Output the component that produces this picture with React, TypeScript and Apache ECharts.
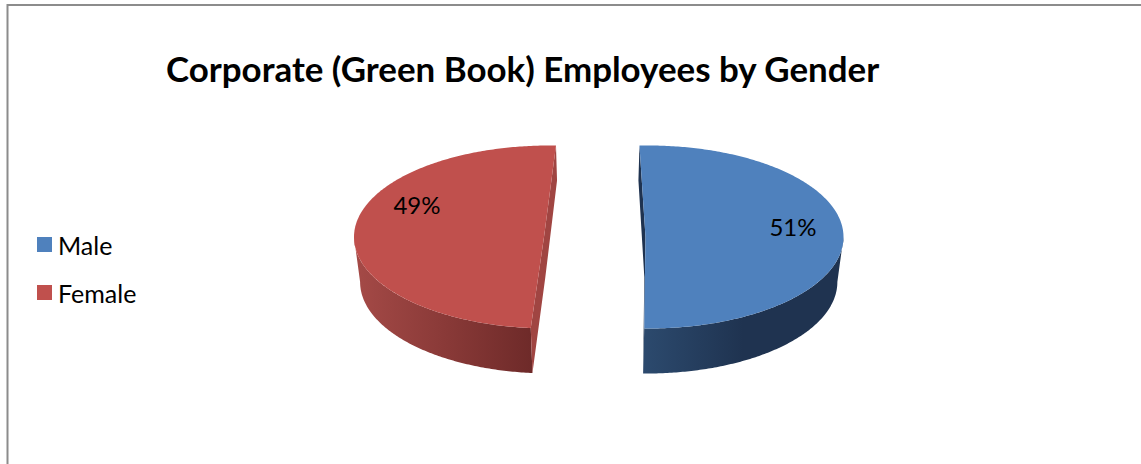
import React, { useEffect, useRef } from "react";
import * as echarts from "echarts";

const titleText = "Corporate (Green Book) Employees by Gender";
const categories = ["Male", "Female"];
const shares = [51, 49];

const sliceColors = ["#4f81bd", "#c0504d"];
const cutColors = ["#1f3350", "#a04542"];
const wallStops = [
  [[0, "#2c4a6e"], [0.5, "#1f3350"], [1, "#1f3350"]],
  [[0, "#a54a47"], [0.5, "#8a3a38"], [1, "#6e2a29"]],
];
// Layout of the exploded wedges: ellipse centre, wedge apex, first rim angle (deg clockwise from 12 o'clock)
const layouts = [
  { cx: 648, apexX: 645.5, start: -2.5, labelX: 793, labelY: 226 },
  { cx: 549.5, apexX: 544, start: 185.5, labelX: 417, labelY: 204 },
];
const CY = 237;
const RX = 195.5;
const RY = 91.5;
const DEPTH = 45;
const BACK_DEPTH = 35;
const APEX_DEPTH = 40;
const VANISH_X = 598;
const SHRINK = 0.975;

const FONT = "Lato, Carlito, sans-serif";

const lowerX = (x: number) => VANISH_X + (x - VANISH_X) * SHRINK;

function rim(cx: number, deg: number): [number, number] {
  const a = (deg * Math.PI) / 180;
  return [cx + RX * Math.sin(a), CY - RY * Math.cos(a)];
}

function arc(cx: number, from: number, to: number): [number, number][] {
  const n = Math.max(2, Math.ceil(Math.abs(to - from) * 1.5));
  const out: [number, number][] = [];
  for (let i = 0; i <= n; i++) out.push(rim(cx, from + ((to - from) * i) / n));
  return out;
}

const drop = (p: [number, number]): [number, number] => [lowerX(p[0]), p[1] + DEPTH];

function renderSlice(index: number) {
  return (_params: any, api: any) => {
    const value = api.value(0) as number;
    const total = shares.reduce((a, b) => a + b, 0);
    const sweep = (value / total) * 360;
    const { cx, apexX, start, labelX, labelY } = layouts[index];
    const end = start + sweep;
    const apex: [number, number] = [apexX, CY];
    const rimPts = arc(cx, start, end);

    // outer wall: the part of the rim that faces the viewer (90..270 deg)
    const wallFrom = Math.max(start, 90);
    const wallTo = Math.min(end, 270);
    const wallTop = arc(cx, wallFrom, wallTo);
    const wall = [...wallTop, ...wallTop.slice().reverse().map(drop)];

    // cut face behind the top face
    const startPt = rimPts[0];
    const endPt = rimPts[rimPts.length - 1];
    const backPt = startPt[1] < endPt[1] ? startPt : endPt;
    const frontPt = startPt[1] < endPt[1] ? endPt : startPt;
    const cut: [number, number][] = [
      backPt,
      [lowerX(backPt[0]), backPt[1] + BACK_DEPTH],
      [lowerX(apexX), CY + APEX_DEPTH],
      drop(frontPt),
      frontPt,
      apex,
    ];

    const stops = wallStops[index].map((s) => ({ offset: s[0] as number, color: s[1] as string }));
    return {
      type: "group",
      children: [
        {
          type: "polygon",
          shape: { points: wall },
          style: { fill: new echarts.graphic.LinearGradient(0, 0, 1, 0, stops) },
        },
        { type: "polygon", shape: { points: cut }, style: { fill: cutColors[index] } },
        {
          type: "polygon",
          shape: { points: [apex, ...rimPts] },
          style: { fill: sliceColors[index] },
        },
        {
          type: "text",
          style: {
            text: `${value}%`,
            x: labelX,
            y: labelY,
            fill: "#000",
            font: `24px ${FONT}`,
            align: "center",
            verticalAlign: "middle",
          },
        },
      ],
    };
  };
}

export default function App() {
  const ref = useRef<HTMLDivElement>(null);
  useEffect(() => {
    document.body.style.margin = "0";
    const chart = echarts.init(ref.current!, undefined, { renderer: "svg" });
    chart.setOption({
      animation: false,
      backgroundColor: "#ffffff",
      title: {
        text: titleText,
        left: 166,
        top: 51,
        padding: 0,
        textStyle: { fontFamily: FONT, fontWeight: "bold", fontSize: 34.9, color: "#000" },
      },
      legend: {
        data: categories,
        orient: "vertical",
        left: 37,
        top: 232,
        padding: 0,
        icon: "rect",
        itemWidth: 15,
        itemHeight: 15,
        itemGap: 23,
        textStyle: { fontFamily: FONT, fontSize: 25, color: "#000", padding: [0, 0, 0, 1] },
        selectedMode: false,
      },
      graphic: [
        {
          type: "polyline",
          silent: true,
          shape: { points: [[7.5, 464], [7.5, 5], [1141, 5]] },
          style: { stroke: "#8c8c8c", lineWidth: 2, fill: "none" },
        },
      ],
      series: categories.map((name, i) => ({
        type: "custom",
        name,
        coordinateSystem: "none",
        silent: true,
        itemStyle: { color: sliceColors[i] },
        renderItem: renderSlice(i),
        data: [[shares[i]]],
      })),
    });
    return () => chart.dispose();
  }, []);
  return <div ref={ref} style={{ width: 1141, height: 464 }} />;
}
